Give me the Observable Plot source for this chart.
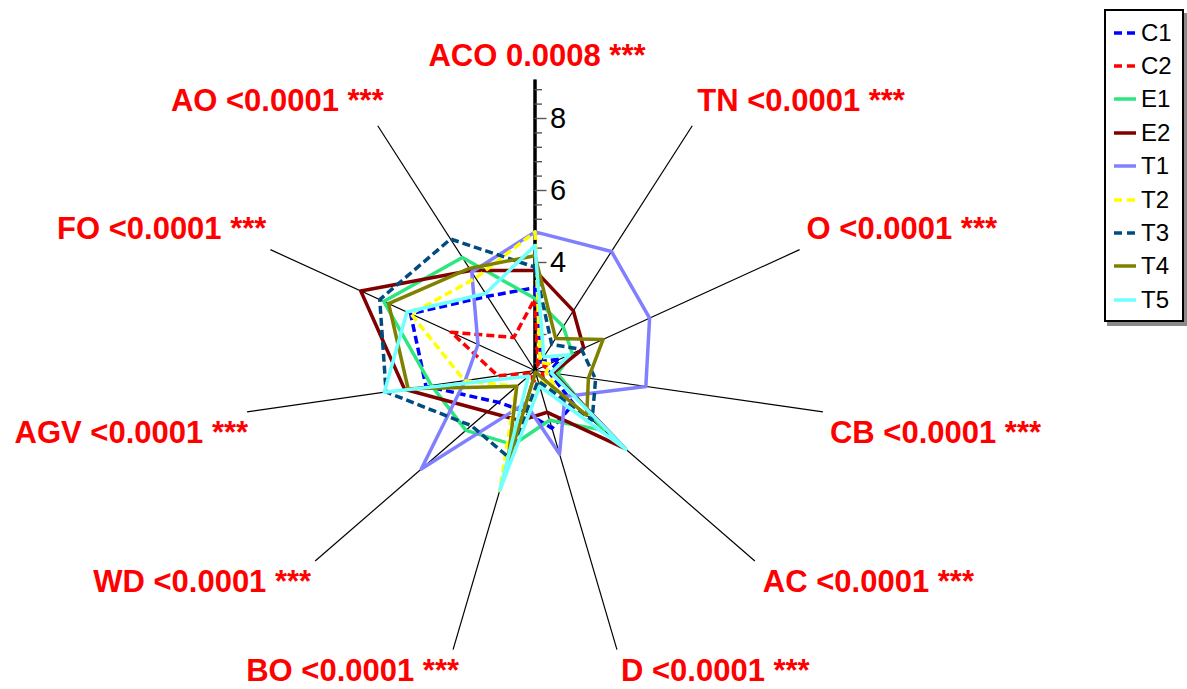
<!DOCTYPE html>
<html>
<head>
<meta charset="utf-8">
<script src="https://cdn.jsdelivr.net/npm/d3@7"></script>
<script src="https://cdn.jsdelivr.net/npm/@observablehq/plot@0.6"></script>
<style>
  html, body { margin: 0; padding: 0; background: #fff; }
  #wrap { position: relative; width: 1187px; height: 689px; overflow: hidden; background: #fff; }
  #legend {
    position: absolute; left: 1104px; top: 9px; width: 80px; height: 313px;
    box-sizing: border-box; border: 2px solid #000; background: #fff;
    box-shadow: 3px 4px 0 #8a8a8a;
    font-family: "Liberation Sans", Arial, sans-serif; font-size: 24px; color: #000;
    padding-top: 5px;
  }
  .row { height: 33.4px; display: flex; align-items: center; }
  .row svg { margin-left: 8px; margin-right: 5px; flex: none; }
</style>
</head>
<body>
<div id="wrap"><div id="legend"></div></div>
<script>
// ---- data ----
const axes = ["ACO", "TN", "O", "CB", "AC", "D", "BO", "WD", "AGV", "FO", "AO"];
const pvalues = ["0.0008", "<0.0001", "<0.0001", "<0.0001", "<0.0001", "<0.0001",
                 "<0.0001", "<0.0001", "<0.0001", "<0.0001", "<0.0001"];
const stars = ["***", "***", "***", "***", "***", "***", "***", "***", "***", "***", "***"];
const seriesNames = ["C1", "C2", "E1", "E2", "T1", "T2", "T3", "T4", "T5"];
// values in axis order ACO, TN, O, CB, AC, D, BO, WD, AGV, FO, AO
const C1 = [3.30, 1.30, 1.76, 1.40, 2.42, 2.67, 2.17, 2.35, 4.06, 4.80, 3.45];
const C2 = [3.00, 1.15, 1.35, 1.20, 1.30, 1.50, 1.25, 1.10, 2.04, 3.56, 2.09];
const E1 = [3.00, 2.45, 2.14, 1.63, 3.54, 2.44, 3.15, 3.54, 3.91, 5.62, 4.73];
const E2 = [3.78, 2.97, 2.49, 1.50, 4.30, 2.21, 2.45, 2.75, 4.66, 6.32, 4.30];
const T1 = [4.85, 4.93, 4.50, 4.11, 2.10, 3.42, 1.95, 5.18, 2.96, 2.74, 4.25];
const T2 = [4.85, 1.27, 1.44, 1.32, 1.80, 1.30, 4.48, 1.68, 2.98, 4.79, 4.05];
const T3 = [3.87, 1.86, 2.42, 2.70, 3.10, 1.30, 3.53, 3.34, 5.18, 5.74, 5.34];
const T4 = [4.19, 2.06, 3.08, 2.50, 2.90, 1.05, 3.70, 1.67, 4.56, 5.47, 4.37];
const T5 = [4.47, 1.45, 2.06, 1.45, 4.34, 1.46, 4.46, 1.24, 5.23, 4.91, 3.54];
const seriesValues = [C1, C2, E1, E2, T1, T2, T3, T4, T5];
const tickLabels = [4, 6, 8];
const majorTicks = [2, 4, 6, 8];
const minorTicks = [1.2, 1.6, 2.4, 2.8, 3.2, 3.6, 4.4, 4.8, 5.2, 5.6, 6.4, 6.8, 7.2, 7.6, 8.4, 8.8];

// ---- styles ----
const colors = ["#0000FF", "#FF0000", "#2EE680", "#800000", "#8080FF", "#FFFF00", "#004C80", "#808000", "#70FFFF"];
const dashed = [true, true, false, false, false, true, true, false, false];

// ---- geometry ----
const VMIN = 1, VMAX = 9.08, K = 36;        // K: pixels per value unit
const W = 1187, H = 689, CX = 534.5, CY = 370;
const n = axes.length;
const ang = i => 2 * Math.PI * i / n;
const px = (v, i) => (v - VMIN) * Math.sin(ang(i));
const py = (v, i) => (v - VMIN) * Math.cos(ang(i));

// label offsets (pixels) per axis: [anchor, dx, dy]
const labelStyle = [
  ["middle", 2, -24], ["start", 5, -25], ["start", 7, -21], ["start", 7, 21],
  ["start", 8, 21], ["start", 4, 21], ["end", 6, 21], ["end", -4, 21],
  ["end", 1, 21], ["end", -4, -21], ["end", 6, -25]
];

const rows = seriesNames.map((s, k) => seriesValues[k].map((v, i) => ({series: s, i, v})));

const marks = [];
// spokes
marks.push(Plot.link(axes.map((a, i) => i), {
  x1: () => 0, y1: () => 0,
  x2: i => px(VMAX, i), y2: i => py(VMAX, i),
  stroke: "#000", strokeWidth: 1.2
}));
// value axis along ACO
marks.push(Plot.link([0], {
  x1: () => 0, y1: () => 0, x2: () => 0, y2: () => VMAX - VMIN,
  stroke: "#000", strokeWidth: 3.5
}));
marks.push(Plot.ruleY(minorTicks, {y: v => v - VMIN, x1: () => 0, x2: () => 7.5 / K, stroke: "#555", strokeWidth: 1.4}));
marks.push(Plot.ruleY(majorTicks, {y: v => v - VMIN, x1: () => 0, x2: () => 12 / K, stroke: "#555", strokeWidth: 1.4}));
// series
rows.forEach((r, k) => {
  marks.push(Plot.line(r, {
    x: d => px(d.v, d.i), y: d => py(d.v, d.i),
    curve: "linear-closed",
    stroke: colors[k], strokeWidth: 3.5,
    strokeDasharray: dashed[k] ? "8,4" : null,
    strokeLinecap: dashed[k] ? "butt" : "round",
    strokeLinejoin: "round"
  }));
});
// tick labels
marks.push(Plot.text(tickLabels, {
  x: () => 0, y: v => v - VMIN, text: v => String(v),
  dx: 15, textAnchor: "start", fontSize: 29, fill: "#000"
}));
// category labels
axes.forEach((a, i) => {
  const [anchor, dx, dy] = labelStyle[i];
  marks.push(Plot.text([i], {
    x: j => px(VMAX, j), y: j => py(VMAX, j),
    text: j => `${axes[j]} ${pvalues[j]} ${stars[j]}`,
    textAnchor: anchor, dx, dy,
    fontSize: 31, fontWeight: "bold", fill: "#FF0000"
  }));
});

const chart = Plot.plot({
  width: W, height: H,
  marginTop: 0, marginRight: 0, marginBottom: 0, marginLeft: 0,
  x: {domain: [-CX / K, (W - CX) / K], range: [0, W], axis: null},
  y: {domain: [-(H - CY) / K, CY / K], range: [H, 0], axis: null},
  style: {fontFamily: '"Liberation Sans", Arial, sans-serif', background: "#fff", overflow: "visible"},
  marks
});
document.getElementById("wrap").prepend(chart);

// legend
const legend = d3.select("#legend");
seriesNames.forEach((s, k) => {
  const row = legend.append("div").attr("class", "row");
  const svg = row.append("svg").attr("width", 22).attr("height", 10);
  svg.append("line").attr("x1", 0).attr("x2", 22).attr("y1", 5).attr("y2", 5)
    .attr("stroke", colors[k]).attr("stroke-width", 3.5)
    .attr("stroke-dasharray", dashed[k] ? "8,5" : null);
  row.append("span").text(s);
});
</script>
</body>
</html>
